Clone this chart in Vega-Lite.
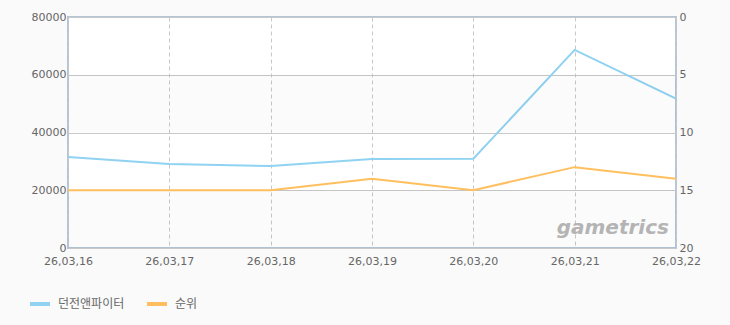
{
  "$schema": "https://vega.github.io/schema/vega-lite/v6.json",
  "width": 608,
  "height": 231,
  "autosize": {"type": "none"},
  "padding": {"left": 68, "top": 17, "right": 54, "bottom": 77},
  "background": "#fafafa",
  "config": {
    "view": {"fill": "#ffffff", "stroke": "#b4c5d8", "strokeWidth": 2},
    "font": "DejaVu Sans",
    "axis": {"labelColor": "#666666", "labelFontSize": 11, "labelFont": "DejaVu Sans", "ticks": false, "domain": false, "title": null, "gridColor": "#c8c8c8", "gridWidth": 1}
  },
  "datasets": {
    "main": [
      {"date": "26,03,16", "sales": 31500, "rank": 15},
      {"date": "26,03,17", "sales": 29100, "rank": 15},
      {"date": "26,03,18", "sales": 28400, "rank": 15},
      {"date": "26,03,19", "sales": 30800, "rank": 14},
      {"date": "26,03,20", "sales": 30900, "rank": 15},
      {"date": "26,03,21", "sales": 68600, "rank": 13},
      {"date": "26,03,22", "sales": 51700, "rank": 14}
    ],
    "bands": [
      {"lo": 0, "hi": 20000},
      {"lo": 40000, "hi": 60000}
    ]
  },
  "layer": [
    {
      "layer": [
        {
          "data": {"name": "main"},
          "mark": {"type": "line", "strokeWidth": 2, "clip": false},
          "encoding": {
            "x": {"field": "date", "type": "ordinal", "sort": null,
                  "scale": {"type": "point", "padding": 0, "domain": ["26,03,16", "26,03,17", "26,03,18", "26,03,19", "26,03,20", "26,03,21", "26,03,22"]},
                  "axis": {"labelAngle": 0, "grid": true, "gridDash": [4, 3], "labelPadding": 7}},
            "y": {"field": "sales", "type": "quantitative", "scale": {"domain": [0, 80000], "nice": false},
                  "axis": {"values": [0, 20000, 40000, 60000, 80000], "grid": true, "labelPadding": 2, "format": "d"}},
            "color": {"datum": "던전앤파이터", "type": "nominal",
                      "scale": {"domain": ["던전앤파이터", "순위"], "range": ["#8fd2f2", "#ffbf5e"]},
                      "legend": {"orient": "none", "legendX": -40, "legendY": 275, "direction": "horizontal", "title": null,
                                 "symbolType": "stroke", "symbolSize": 400, "symbolStrokeWidth": 4, "labelFontSize": 12,
                                 "labelColor": "#666666", "labelFont": "Noto Sans CJK KR", "columnPadding": 14, "labelOffset": 6}}
          }
        },
        {
          "data": {"name": "bands"},
          "mark": {"type": "rect", "fill": "#000000", "opacity": 0.015},
          "encoding": {
            "y": {"field": "lo", "type": "quantitative"},
            "y2": {"field": "hi"}
          }
        },
        {
          "data": {"values": [{"label": "gametrics"}]},
          "mark": {"type": "text", "fontSize": 20, "fontStyle": "italic", "fontWeight": "bold", "fill": "#b4b4b4", "align": "left", "baseline": "alphabetic", "dx": -18, "font": "DejaVu Sans"},
          "encoding": {
            "text": {"field": "label"},
            "x": {"datum": "26,03,21", "type": "ordinal"},
            "y": {"datum": 5000, "type": "quantitative"}
          }
        }
      ]
    },
    {
      "data": {"name": "main"},
      "mark": {"type": "line", "strokeWidth": 2, "clip": false},
      "encoding": {
        "x": {"field": "date", "type": "ordinal", "sort": null},
        "y": {"field": "rank", "type": "quantitative", "scale": {"domain": [0, 20], "reverse": true, "nice": false},
              "axis": {"orient": "right", "values": [0, 5, 10, 15, 20], "grid": false, "labelPadding": 3}},
        "color": {"datum": "순위", "type": "nominal"}
      }
    }
  ],
  "resolve": {"scale": {"y": "independent"}}
}
